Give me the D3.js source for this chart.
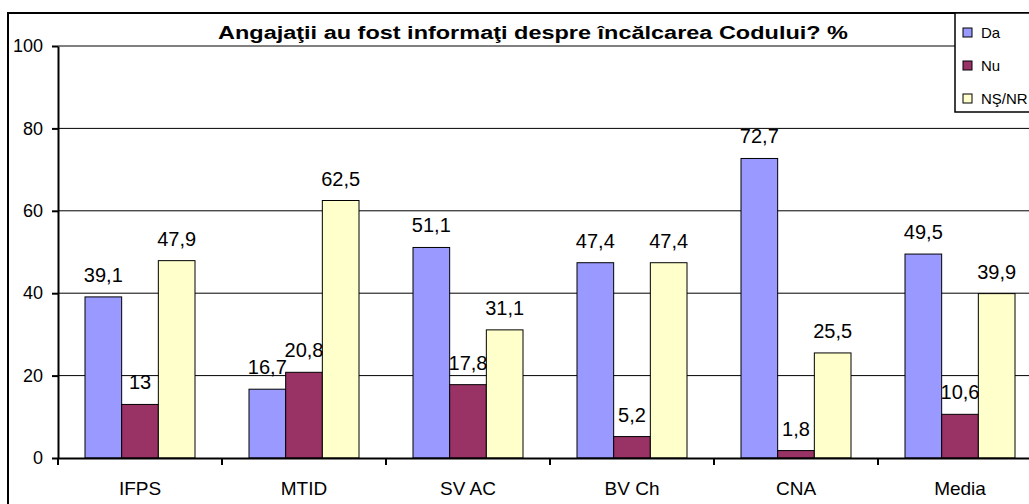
<!DOCTYPE html>
<html>
<head>
<meta charset="utf-8">
<script src="https://cdn.jsdelivr.net/npm/d3@7"></script>
<style>
  body { margin: 0; background: #fff; }
  svg { display: block; font-family: Arial, "Liberation Sans", sans-serif; }
</style>
</head>
<body>
<svg id="chart" width="1029" height="504"></svg>
<script>
// data
var categories = ['IFPS', 'MTID', 'SV AC', 'BV Ch', 'CNA', 'Media'];
var seriesNames = ['Da', 'Nu', 'NŞ/NR'];
var da = [39.1, 16.7, 51.1, 47.4, 72.7, 49.5];
var nu = [13, 20.8, 17.8, 5.2, 1.8, 10.6];
var nsnr = [47.9, 62.5, 31.1, 47.4, 25.5, 39.9];
var yTicks = [0, 20, 40, 60, 80, 100];
var colors = ['#9999FF', '#993366', '#FFFFCC'];

var svg = d3.select('#chart');

// plot area (runs past the right edge like the original)
var plotLeft = 58, plotRight = 1042, plotTop = 46, plotBottom = 458;

// outer chart border
svg.append('rect')
    .attr('x', 8).attr('y', 13)
    .attr('width', 1100).attr('height', 600)
    .attr('fill', 'none')
    .attr('stroke', '#000')
    .attr('stroke-width', 2);

var y = d3.scaleLinear().domain([0, 100]).range([plotBottom, plotTop]);

var x0 = d3.scaleBand().domain(categories).range([plotLeft, plotRight]);
var x1 = d3.scaleBand().domain(seriesNames).range([27, x0.bandwidth() - 27]);

// gridlines
svg.append('g')
    .selectAll('line')
    .data(yTicks.filter(function(d) { return d > 0; }))
    .enter().append('line')
    .attr('x1', plotLeft).attr('x2', plotRight)
    .attr('y1', function(d) { return y(d); })
    .attr('y2', function(d) { return y(d); })
    .attr('stroke', function(d) { return d == 100 ? '#808080' : '#000'; })
    .attr('stroke-width', function(d) { return d == 100 ? 2 : 1; });

// bars
var rows = categories.map(function(c, i) {
    return { cat: c, vals: [da[i], nu[i], nsnr[i]] };
});

var groups = svg.append('g')
    .selectAll('g')
    .data(rows)
    .enter().append('g')
    .attr('transform', function(d) { return 'translate(' + x0(d.cat) + ',0)'; });

groups.selectAll('rect')
    .data(function(d) {
        return d.vals.map(function(v, j) { return { name: seriesNames[j], v: v, j: j }; });
    })
    .enter().append('rect')
    .attr('x', function(d) { return x1(d.name); })
    .attr('y', function(d) { return y(d.v); })
    .attr('width', x1.bandwidth())
    .attr('height', function(d) { return y(0) - y(d.v); })
    .attr('fill', function(d) { return colors[d.j]; })
    .attr('stroke', '#000')
    .attr('stroke-width', 1);

groups.selectAll('text')
    .data(function(d) {
        return d.vals.map(function(v, j) { return { name: seriesNames[j], v: v }; });
    })
    .enter().append('text')
    .attr('x', function(d) { return x1(d.name) + x1.bandwidth() / 2; })
    .attr('y', function(d) { return y(d.v) - 15; })
    .attr('text-anchor', 'middle')
    .attr('font-size', 20)
    .text(function(d) { return String(d.v).replace('.', ','); });

// y axis
var yAxis = svg.append('g')
    .attr('transform', 'translate(' + plotLeft + ',0)')
    .call(d3.axisLeft(y).tickValues(yTicks).tickSize(6).tickSizeOuter(0).tickPadding(9));
yAxis.select('.domain').attr('stroke', '#000').attr('stroke-width', 2);
yAxis.selectAll('.tick line').attr('stroke', '#000').attr('stroke-width', 2);
yAxis.selectAll('text').attr('font-size', 18).attr('fill', '#000').attr('font-family', 'Arial, "Liberation Sans", sans-serif');

// x axis
var xAxis = svg.append('g')
    .attr('transform', 'translate(0,' + plotBottom + ')')
    .call(d3.axisBottom(x0).tickSize(0).tickPadding(24));
xAxis.select('.domain').attr('stroke', '#000').attr('stroke-width', 2);
xAxis.selectAll('text').attr('font-size', 19).attr('fill', '#000').attr('font-family', 'Arial, "Liberation Sans", sans-serif');
svg.append('g')
    .selectAll('line')
    .data(categories)
    .enter().append('line')
    .attr('x1', function(d) { return x0(d); })
    .attr('x2', function(d) { return x0(d); })
    .attr('y1', plotBottom).attr('y2', plotBottom + 7)
    .attr('stroke', '#000').attr('stroke-width', 2);

// title
svg.append('text')
    .attr('x', 533).attr('y', 39)
    .attr('text-anchor', 'middle')
    .attr('font-size', 18)
    .attr('font-weight', 'bold')
    .attr('textLength', 630)
    .attr('lengthAdjust', 'spacingAndGlyphs')
    .text('Angajaţii au fost informaţi despre încălcarea Codului? %');

// legend
var lg = svg.append('g').attr('transform', 'translate(955,13)');
lg.append('rect')
    .attr('width', 120).attr('height', 99)
    .attr('fill', '#fff')
    .attr('stroke', '#000')
    .attr('stroke-width', 1.5);
var items = lg.selectAll('g')
    .data(seriesNames)
    .enter().append('g')
    .attr('transform', function(d, i) { return 'translate(8,' + (19 + i * 33) + ')'; });
items.append('rect')
    .attr('x', 0).attr('y', -4)
    .attr('width', 9).attr('height', 9)
    .attr('fill', function(d, i) { return colors[i]; })
    .attr('stroke', '#000');
items.append('text')
    .attr('x', 18).attr('y', 6)
    .attr('font-size', 15)
    .text(function(d) { return d; });
</script>
</body>
</html>
